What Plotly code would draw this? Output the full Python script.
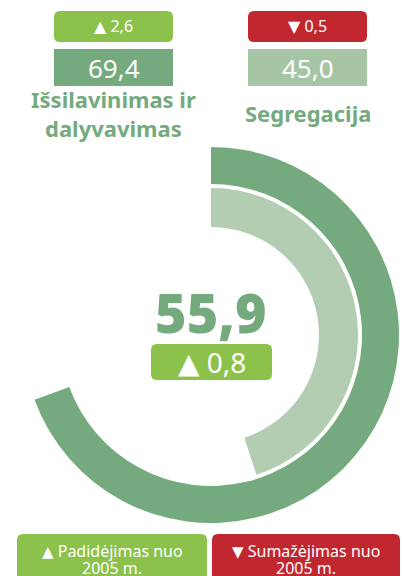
import plotly.graph_objects as go

# ---- data ----
categories = ["Išsilavinimas ir<br>dalyvavimas", "Segregacija"]
values = [69.4, 45.0]
changes = [2.6, -0.5]
total_value = 55.9
total_change = 0.8
legend_lines = [["Padidėjimas nuo", "2005 m."], ["Sumažėjimas nuo", "2005 m."]]
legend_signs = [1, -1]
max_value = 100

W, H = 403, 576
FONT = "Noto Sans"
C_OUT = "#74AA7E"
C_IN = "#B3CDB3"
C_IN_BOX = "#A5C5A5"
C_UP = "#8CC24B"
C_DOWN = "#C1272F"


def fmt(v):
    return f"{abs(v):.1f}".replace(".", ",")


def px(x):
    return x / W


def py(y):
    return 1 - y / H


def rrect(x0, y0, x1, y1, r):
    pts = [
        f"M {px(x0 + r)},{py(y0)}",
        f"L {px(x1 - r)},{py(y0)}",
        f"Q {px(x1)},{py(y0)} {px(x1)},{py(y0 + r)}",
        f"L {px(x1)},{py(y1 - r)}",
        f"Q {px(x1)},{py(y1)} {px(x1 - r)},{py(y1)}",
        f"L {px(x0 + r)},{py(y1)}",
        f"Q {px(x0)},{py(y1)} {px(x0)},{py(y1 - r)}",
        f"L {px(x0)},{py(y0 + r)}",
        f"Q {px(x0)},{py(y0)} {px(x0 + r)},{py(y0)}",
        "Z",
    ]
    return " ".join(pts)


def tri(sign, size):
    arrow = "▲" if sign >= 0 else "▼"
    return f"<span style='font-family:DejaVu Sans;font-size:{size}px'>{arrow}</span>"


fig = go.Figure()

cx, cy = 211, 335
rings = [(188, 151, C_OUT), (147, 108, C_IN)]
for val, (ro, ri, col) in zip(values, rings):
    fig.add_trace(go.Pie(
        values=[val, max_value - val],
        sort=False,
        direction="clockwise",
        rotation=0,
        hole=ri / ro,
        marker=dict(colors=[col, "rgba(0,0,0,0)"], line=dict(width=0)),
        textinfo="none",
        hoverinfo="skip",
        domain=dict(x=[px(cx - ro), px(cx + ro)], y=[py(cy + ro), py(cy - ro)]),
        showlegend=False,
    ))

shapes = []
annotations = []

blocks = [(54, 173, C_OUT), (248, 367, C_IN_BOX)]
for cat, val, chg, (x0, x1, boxcol) in zip(categories, values, changes, blocks):
    xc = (x0 + x1) / 2
    chcol = C_UP if chg >= 0 else C_DOWN
    shapes.append(dict(type="path", xref="paper", yref="paper",
                       path=rrect(x0, 11, x1, 42, 6), fillcolor=chcol, line=dict(width=0)))
    annotations.append(dict(x=px(xc), y=py(26.5), xref="paper", yref="paper",
                            text=f"{tri(chg, 16)} {fmt(chg)}", showarrow=False,
                            font=dict(family=FONT, size=16, color="white"),
                            xanchor="center", yanchor="middle"))
    shapes.append(dict(type="rect", xref="paper", yref="paper",
                       x0=px(x0), x1=px(x1), y0=py(86), y1=py(49),
                       fillcolor=boxcol, line=dict(width=0)))
    annotations.append(dict(x=px(xc), y=py(68), xref="paper", yref="paper",
                            text=fmt(val), showarrow=False,
                            font=dict(family=FONT, size=26, color="white"),
                            xanchor="center", yanchor="middle"))
    annotations.append(dict(x=px(xc), y=py(113), xref="paper", yref="paper",
                            text=cat, showarrow=False,
                            font=dict(family=FONT, size=22, color=C_OUT, weight=700),
                            xanchor="center", yanchor="middle"))

annotations.append(dict(x=px(cx), y=py(312), xref="paper", yref="paper",
                        text=fmt(total_value), showarrow=False,
                        font=dict(family=FONT, size=54, color=C_OUT, weight=900),
                        xanchor="center", yanchor="middle"))
shapes.append(dict(type="path", xref="paper", yref="paper",
                   path=rrect(151, 344, 272, 380, 6), fillcolor=C_UP, line=dict(width=0)))
annotations.append(dict(x=px(211.5), y=py(362), xref="paper", yref="paper",
                        text=f"{tri(total_change, 28)} {fmt(total_change)}",
                        showarrow=False,
                        font=dict(family=FONT, size=28, color="white"),
                        xanchor="center", yanchor="middle"))

leg_boxes = [(17, 207, C_UP), (212, 400, C_DOWN)]
for lines, sgn, (x0, x1, col) in zip(legend_lines, legend_signs, leg_boxes):
    shapes.append(dict(type="path", xref="paper", yref="paper",
                       path=rrect(x0, 534, x1, 590, 6), fillcolor=col, line=dict(width=0)))
    xc = px((x0 + x1) / 2)
    annotations.append(dict(x=xc, y=py(551), xref="paper", yref="paper",
                            text=f"{tri(sgn, 15)} {lines[0]}", showarrow=False,
                            font=dict(family=FONT, size=16, color="white"),
                            xanchor="center", yanchor="middle"))
    annotations.append(dict(x=xc, y=py(568), xref="paper", yref="paper",
                            text=lines[1], showarrow=False,
                            font=dict(family=FONT, size=16, color="white"),
                            xanchor="center", yanchor="middle"))

fig.update_layout(
    width=W, height=H,
    margin=dict(l=0, r=0, t=0, b=0),
    paper_bgcolor="white", plot_bgcolor="white",
    shapes=shapes, annotations=annotations,
    showlegend=False,
)

fig.write_html(
    "out.html",
    config={"displayModeBar": False},
    post_script="document.body.style.margin='0';document.body.style.padding='0';",
)
